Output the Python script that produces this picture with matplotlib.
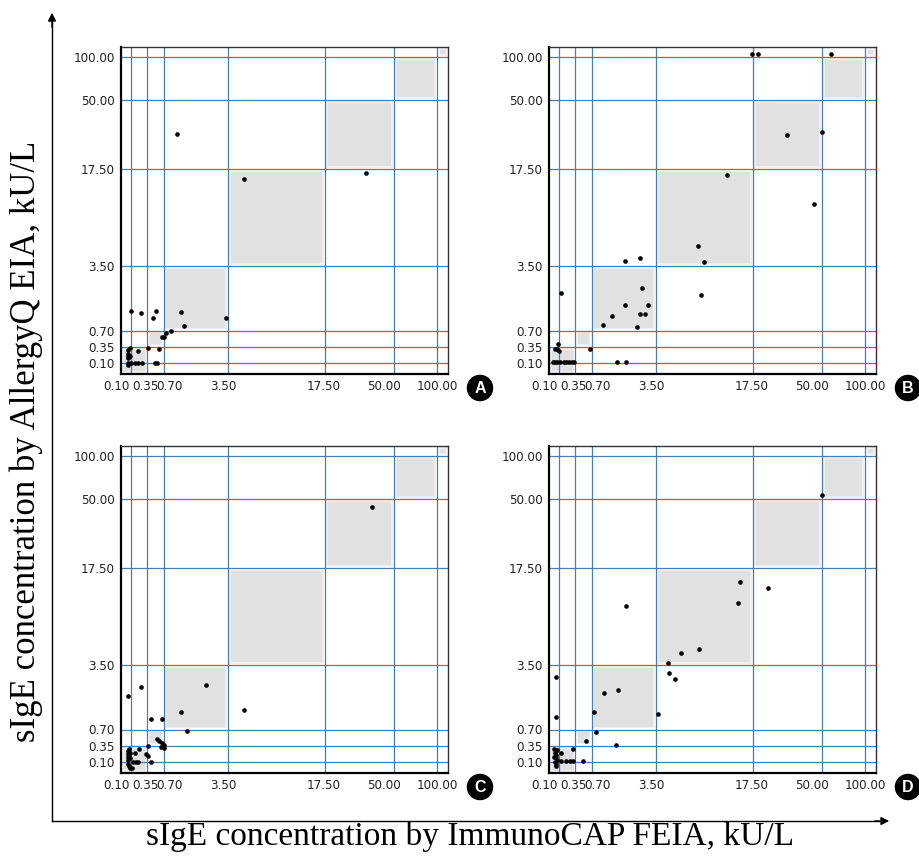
import matplotlib
matplotlib.use("Agg")
import matplotlib.pyplot as plt
import numpy as np
from matplotlib import font_manager as fm
from matplotlib.patches import Rectangle
from matplotlib.transforms import ScaledTranslation

# sIgE class cut-offs (kU/L) and where they sit on the axis (arbitrary units)
cuts = [0.10, 0.35, 0.70, 3.50, 17.50, 50.00, 100.00]
cut_pos = [0, 16.3, 32.5, 96.8, 193.8, 263.0, 306.2]
tick_labels = ["0.10", "0.35", "0.70", "3.50", "17.50", "50.00", "100.00"]

# ImmunoCAP (x) vs AllergyQ (y), kU/L
a_cap = [1.27, 5.77, 36.8, 3.41, 1.59, 1.45, 0.54, 0.47, 0.26, 0.105, 1.01,
         0.83, 0.71, 0.66, 0.61, 0.36, 0.21, 0.058, 0.084, 0.058, 0.048,
         0.084, 0.053, 0.048, 0.10, 0.16, 0.21, 0.27, 0.52, 0.55, 0.06]
a_aq = [34.0, 16.05, 16.9, 1.23, 0.90, 1.49, 1.56, 1.26, 1.46, 1.53, 0.70,
        0.65, 0.57, 0.55, 0.32, 0.33, 0.29, 0.30, 0.33, 0.236, 0.20,
        0.21, 0.178, 0.095, 0.095, 0.10, 0.10, 0.10, 0.10, 0.10, 0.07]

b_cap = [17.35, 20.0, 60.1, 33.4, 50.5, 13.8, 46.2, 9.56, 10.5, 10.0, 2.17,
         2.80, 2.90, 2.17, 3.17, 2.83, 3.05, 1.60, 1.19, 2.68, 0.127, 0.67,
         1.79, 2.22, 0.033, 0.069, 0.084, 0.095, 0.002, 0.033, 0.069, 0.11,
         0.173, 0.215, 0.256, 0.294, 0.33]
b_aq = [103, 103, 103, 33.7, 35.0, 16.6, 12.5, 6.43, 4.08, 2.26, 4.26,
        4.74, 2.55, 1.82, 1.79, 1.40, 1.40, 1.34, 0.94, 0.86, 2.35, 0.32,
        0.11, 0.11, 0.32, 0.31, 0.40, 0.28, 0.11, 0.11, 0.11, 0.11,
        0.11, 0.11, 0.11, 0.11, 0.11]

c_cap = [39.6, 5.9, 2.55, 1.45, 1.73, 0.25, 0.058, 0.44, 0.67, 0.56, 0.60,
         0.67, 0.71, 0.64, 0.71, 0.365, 0.33, 0.355, 0.43, 0.225, 0.163,
         0.048, 0.069, 0.084, 0.058, 0.048, 0.084, 0.058, 0.048, 0.069,
         0.084, 0.11, 0.136, 0.173, 0.214]
c_aq = [46.2, 1.53, 2.64, 1.46, 0.67, 2.57, 2.14, 1.17, 1.17, 0.50, 0.46,
        0.40, 0.37, 0.33, 0.32, 0.35, 0.22, 0.19, 0.10, 0.30, 0.245,
        0.272, 0.298, 0.245, 0.22, 0.178, 0.158, 0.127, 0.064, 0.038,
        0.011, 0.002, 0.105, 0.105, 0.105]

d_cap = [49.8, 15.6, 24.7, 15.3, 2.2, 9.8, 7.15, 5.19, 5.42, 6.24, 1.86,
         1.25, 0.058, 0.048, 0.82, 3.83, 0.90, 0.58, 1.75, 0.31, 0.51,
         0.126, 0.204, 0.267, 0.31, 0.127, 0.022, 0.048, 0.073, 0.0375,
         0.058, 0.022, 0.048, 0.073, 0.0375, 0.058, 0.048]
d_aq = [55.0, 15.5, 14.6, 12.5, 12.06, 5.8, 5.33, 3.79, 3.17, 2.88, 2.40,
        2.30, 2.97, 1.25, 1.45, 1.39, 0.64, 0.46, 0.37, 0.30, 0.11,
        0.12, 0.12, 0.12, 0.12, 0.245, 0.298, 0.2875, 0.277, 0.236,
        0.209, 0.183, 0.158, 0.131, 0.105, 0.069, 0.0375]

panels = [("A", a_cap, a_aq), ("B", b_cap, b_aq),
          ("C", c_cap, c_aq), ("D", d_cap, d_aq)]

CUTS = np.array(cuts)
POS = np.array(cut_pos)
S_LO = (POS[1] - POS[0]) / (CUTS[1] - CUTS[0])
S_HI = (POS[-1] - POS[-2]) / (CUTS[-1] - CUTS[-2])


def fwd(v):
    v = np.asarray(v, dtype=float)
    out = np.interp(v, CUTS, POS)
    out = np.where(v < CUTS[0], POS[0] + (v - CUTS[0]) * S_LO, out)
    out = np.where(v > CUTS[-1], POS[-1] + (v - CUTS[-1]) * S_HI, out)
    return out


def inv(u):
    u = np.asarray(u, dtype=float)
    out = np.interp(u, POS, CUTS)
    out = np.where(u < POS[0], CUTS[0] + (u - POS[0]) / S_LO, out)
    out = np.where(u > POS[-1], CUTS[-1] + (u - POS[-1]) / S_HI, out)
    return out


def narrow_font():
    """Find a condensed sans for the tick labels, else fall back to Roboto."""
    regular = [f for f in fm.fontManager.ttflist
               if f.style == "normal" and f.weight in (400, "normal", "regular")]
    for f in regular:
        if f.name == "Liberation Sans Narrow":
            return fm.FontProperties(fname=f.fname, size=10.5)
    for f in regular:
        if f.name == "DejaVu Sans" and "condensed" in str(f.stretch):
            return fm.FontProperties(fname=f.fname, size=9.5)
    for f in regular:
        if "Narrow" in f.name or "Condensed" in f.name:
            return fm.FontProperties(fname=f.fname, size=10)
    return fm.FontProperties(family=["Roboto", "DejaVu Sans"], size=9)


W, H = 919, 857
fig = plt.figure(figsize=(W / 100, H / 100), dpi=100)

tick_fp = narrow_font()
grid_col = "#4b7db4"
x_nudge = [-15, -2, 6, -4.5, -1, -10, 0]  # px, labels are shifted in the source

# panel frames in pixels: left, top
frames = [(121, 47), (549, 47), (121, 446), (549, 446)]
size = 327
u_lo_x, u_hi_x = -10, 317
u_lo_y, u_hi_y = -11, 316

for (letter, xs, ys), (left, top) in zip(panels, frames):
    ax = fig.add_axes([left / W, 1 - (top + size) / H, size / W, size / H])
    ax.set_xscale("function", functions=(fwd, inv))
    ax.set_yscale("function", functions=(fwd, inv))
    ax.set_xlim(inv(u_lo_x), inv(u_hi_x))
    ax.set_ylim(inv(u_lo_y), inv(u_hi_y))

    # class boxes along the diagonal
    edges_x = [u_lo_x] + cut_pos[1:] + [u_hi_x]
    edges_y = [u_lo_y] + cut_pos[1:] + [u_hi_y]
    for i in range(len(edges_x) - 1):
        for ins, col in ((1.3, "#efefef"), (2.8, "#e1e1e1")):
            x0, x1 = inv(edges_x[i] + ins), inv(edges_x[i + 1] - ins)
            y0, y1 = inv(edges_y[i] + ins), inv(edges_y[i + 1] - ins)
            ax.add_patch(Rectangle((x0, y0), x1 - x0, y1 - y0, fc=col,
                                   ec="none", zorder=1))

    for c in cuts:
        ax.axvline(c, color=grid_col, lw=0.9, zorder=2)
        ax.axhline(c, color=grid_col, lw=0.9, zorder=2)

    ax.scatter(xs, ys, s=11, color="black", zorder=3, linewidths=0)

    ax.set_xticks(cuts)
    ax.set_xticklabels(tick_labels, fontproperties=tick_fp, color="#222222")
    ax.set_yticks(cuts)
    ax.set_yticklabels(tick_labels, fontproperties=tick_fp, color="#222222")
    ax.minorticks_off()
    ax.tick_params(length=0, pad=4.5)
    for lab, dx in zip(ax.get_xticklabels(), x_nudge):
        lab.set_transform(lab.get_transform() +
                          ScaledTranslation(dx / 100, 0, fig.dpi_scale_trans))

    for side in ("left", "bottom"):
        ax.spines[side].set_linewidth(1.6)
        ax.spines[side].set_color("black")
    for side in ("top", "right"):
        ax.spines[side].set_linewidth(1.0)
        ax.spines[side].set_color("#333333")

    fig.text((left + 359) / W, 1 - (top + 341) / H, letter, ha="center",
             va="center", color="white", fontsize=11.5, fontweight="bold",
             family=["Liberation Sans", "DejaVu Sans"],
             bbox=dict(boxstyle="circle,pad=0.36", fc="black", ec="none"))

# big axis arrows
fig.add_artist(plt.Line2D([52 / W, 52 / W], [1 - 821 / H, 1 - 20 / H],
                          color="black", lw=1.0))
fig.add_artist(plt.Line2D([52 / W, 882 / W], [1 - 821 / H, 1 - 821 / H],
                          color="black", lw=1.0))
plt.annotate("", xy=(52 / W, 1 - 10 / H), xytext=(52 / W, 1 - 30 / H),
             xycoords="figure fraction",
             arrowprops=dict(arrowstyle="-|>", color="black", lw=1.0,
                             mutation_scale=12))
plt.annotate("", xy=(892 / W, 1 - 821 / H), xytext=(872 / W, 1 - 821 / H),
             xycoords="figure fraction",
             arrowprops=dict(arrowstyle="-|>", color="black", lw=1.0,
                             mutation_scale=12))

serif = ["Liberation Serif", "DejaVu Serif"]
fig.text(470 / W, 1 - 837 / H, "sIgE concentration by ImmunoCAP FEIA, kU/L",
         ha="center", va="center", fontsize=24, family=serif)
fig.text(26 / W, 1 - 441 / H, "sIgE concentration by AllergyQ EIA, kU/L",
         ha="center", va="center", rotation=90, fontsize=25, family=serif)

fig.savefig("out.png", dpi=100)
